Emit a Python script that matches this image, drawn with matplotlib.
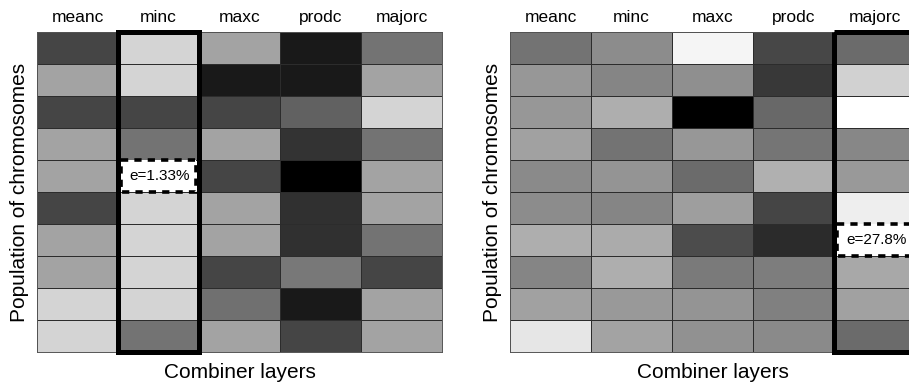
import numpy as np
import matplotlib.pyplot as plt
from matplotlib.patches import Rectangle

plt.rcParams['font.family'] = ['Liberation Sans', 'DejaVu Sans']

combiners = ['meanc', 'minc', 'maxc', 'prodc', 'majorc']

# grey level per cell (0 = black, 1 = white), rows = chromosomes top to bottom
left_meanc = [0.27, 0.64, 0.27, 0.64, 0.64, 0.27, 0.64, 0.64, 0.83, 0.83]
left_minc = [0.83, 0.83, 0.27, 0.45, 1.00, 0.83, 0.83, 0.83, 0.83, 0.45]
left_maxc = [0.64, 0.10, 0.27, 0.64, 0.27, 0.64, 0.64, 0.27, 0.44, 0.64]
left_prodc = [0.10, 0.10, 0.38, 0.20, 0.00, 0.19, 0.19, 0.47, 0.10, 0.27]
left_majorc = [0.45, 0.64, 0.83, 0.45, 0.64, 0.64, 0.45, 0.27, 0.64, 0.64]

right_meanc = [0.45, 0.59, 0.59, 0.63, 0.54, 0.55, 0.68, 0.52, 0.63, 0.90]
right_minc = [0.55, 0.52, 0.68, 0.45, 0.58, 0.52, 0.67, 0.68, 0.60, 0.64]
right_maxc = [0.96, 0.56, 0.00, 0.59, 0.42, 0.62, 0.30, 0.48, 0.58, 0.57]
right_prodc = [0.28, 0.22, 0.41, 0.46, 0.69, 0.27, 0.17, 0.49, 0.50, 0.54]
right_majorc = [0.42, 0.82, 1.00, 0.53, 0.60, 0.93, 1.00, 0.66, 0.63, 0.42]

# selected combiner column, annotated row and its error
left_best = (1, 4, 'e=1.33%')
right_best = (4, 6, 'e=27.8%')

left_grid = np.column_stack([left_meanc, left_minc, left_maxc, left_prodc, left_majorc])
right_grid = np.column_stack([right_meanc, right_minc, right_maxc, right_prodc, right_majorc])

fig = plt.figure(figsize=(9.09, 3.86), dpi=100)
ax1 = fig.add_axes([37 / 909, 1 - 352 / 386, 405 / 909, 320 / 386])
ax2 = fig.add_axes([510 / 909, 1 - 352 / 386, 405 / 909, 320 / 386])


def draw_panel(ax, grid, best):
    ax.pcolormesh(grid, cmap='gray', vmin=0, vmax=1,
                  edgecolors='#2c2c2c', linewidth=0.6)
    ax.set_xlim(0, grid.shape[1])
    ax.set_ylim(grid.shape[0], 0)
    ax.xaxis.tick_top()
    ax.set_xticks(np.arange(grid.shape[1]) + 0.5)
    ax.set_xticklabels(combiners, fontsize=12.5)
    ax.set_yticks([])
    ax.tick_params(axis='x', length=0, pad=5)
    for s in ax.spines.values():
        s.set_color('#555555')
        s.set_linewidth(0.7)
    ax.xaxis.set_label_position('bottom')
    ax.set_xlabel('Combiner layers', fontsize=15, labelpad=8)
    ax.set_ylabel('Population of chromosomes', fontsize=15, labelpad=6)

    col, row, txt = best
    ax.add_patch(Rectangle((col + 0.04, row), 0.92, 1, facecolor='white',
                           edgecolor='black', linewidth=2.6,
                           linestyle=(0, (2.0, 1.7)), zorder=3, clip_on=False))
    ax.text(col + 0.52, row + 0.5, txt, ha='center', va='center',
            fontsize=11, zorder=4)
    ax.add_patch(Rectangle((col, 0), 1, grid.shape[0], facecolor='none',
                           edgecolor='black', linewidth=3.6, zorder=5,
                           clip_on=False))


draw_panel(ax1, left_grid, left_best)
draw_panel(ax2, right_grid, right_best)

fig.savefig('out.png', dpi=100)
